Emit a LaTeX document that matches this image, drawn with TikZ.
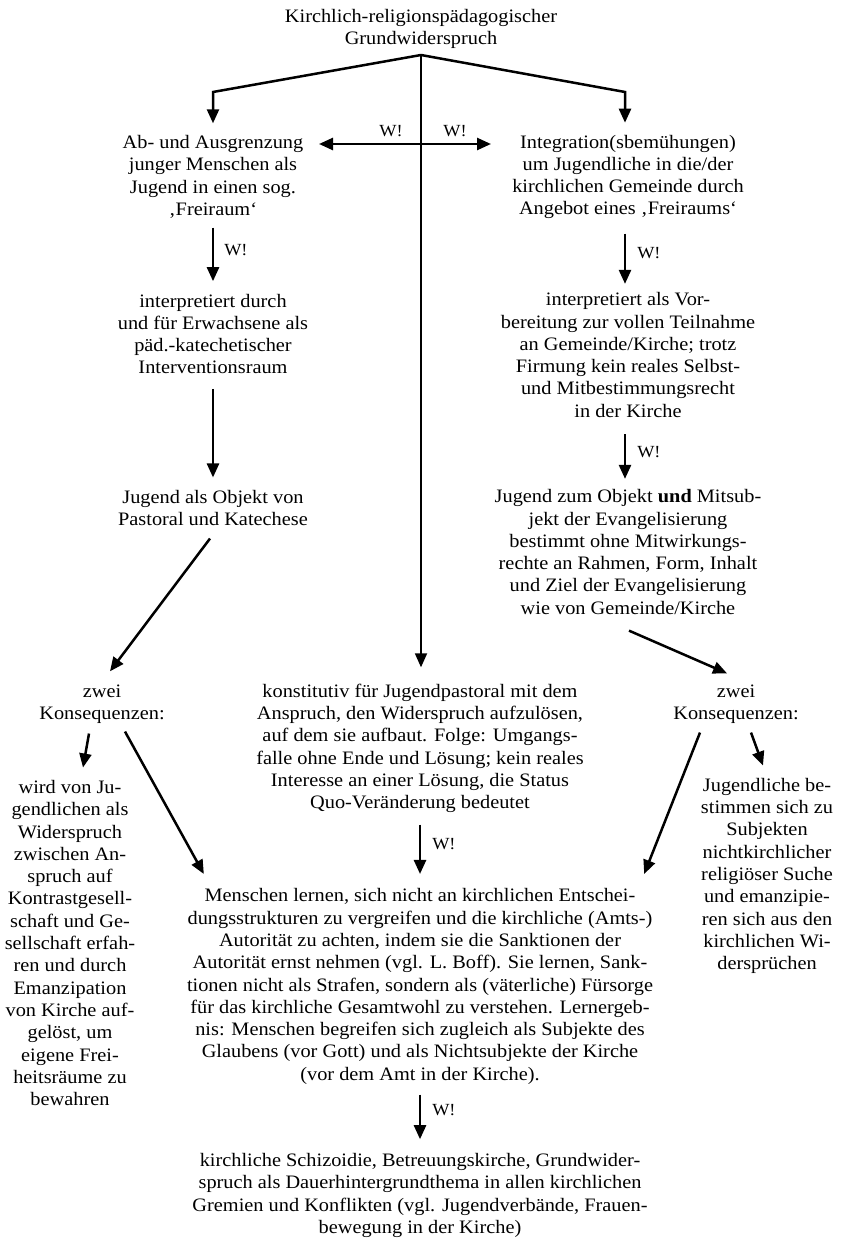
\documentclass[tikz,border=0pt]{standalone}
\usepackage{fontspec}
\setmainfont{Liberation Serif}[FakeStretch=1.07]
\usetikzlibrary{arrows.meta}
\newcommand{\fs}{\fontsize{19}{22.3}\selectfont}
\newcommand{\fw}{\fontsize{17}{20}\selectfont}
\tikzset{
  txt/.style={align=center, font=\fs, inner sep=0pt},
  wlab/.style={font=\fw, inner sep=0pt},
  tip/.style={-{Triangle[length=14pt,width=12pt]}},
  arr/.style={line width=2.5pt, tip},
  arrb/.style={line width=2.5pt, {Triangle[length=14pt,width=12pt]}-{Triangle[length=14pt,width=12pt]}},
  ln/.style={line width=1.8pt}
}
\begin{document}
\begin{tikzpicture}[x=1pt,y=-1pt]
\useasboundingbox (0,0) rectangle (844,1238);
\node[txt] (title) at (421,29) {Kirchlich-religionspädagogischer\\Grundwiderspruch};
\coordinate (apex) at (421,55);
\coordinate (cornL) at (213,92);
\coordinate (cornR) at (625,92);
\node[txt] (L1) at (213,177) {Ab- und Ausgrenzung\\junger Menschen als\\Jugend in einen sog.\\‚Freiraum‘};
\node[txt] (R1) at (628,177) {Integration(sbemühungen)\\um Jugendliche in die/der\\kirchlichen Gemeinde durch\\Angebot eines ‚Freiraums‘};
\node[txt] (L2) at (213,334) {interpretiert durch\\und für Erwachsene als\\päd.-katechetischer\\Interventionsraum};
\node[txt] (R2) at (628,355) {interpretiert als Vor-\\bereitung zur vollen Teilnahme\\an Gemeinde/Kirche; trotz\\Firmung kein reales Selbst-\\und Mitbestimmungsrecht\\in der Kirche};
\node[txt] (L3) at (213,508) {Jugend als Objekt von\\Pastoral und Katechese};
\node[txt] (R3) at (628,552) {Jugend zum Objekt \textbf{und} Mitsub-\\jekt der Evangelisierung\\bestimmt ohne Mitwirkungs-\\rechte an Rahmen, Form, Inhalt\\und Ziel der Evangelisierung\\wie von Gemeinde/Kirche};
\node[txt] (KL) at (102,704.5) {zwei\\Konsequenzen:};
\node[txt] (KR) at (736,704.5) {zwei\\Konsequenzen:};
\node[txt] (C) at (420,748.5) {konstitutiv für Jugendpastoral mit dem\\Anspruch, den Widerspruch aufzulösen,\\auf dem sie aufbaut. Folge: Umgangs-\\falle ohne Ende und Lösung; kein reales\\Interesse an einer Lösung, die Status\\Quo-Veränderung bedeutet};
\node[txt] (LL) at (70,943) {wird von Ju-\\gendlichen als\\Widerspruch\\zwischen An-\\spruch auf\\Kontrastgesell-\\schaft und Ge-\\sellschaft erfah-\\ren und durch\\Emanzipation\\von Kirche auf-\\gelöst, um\\eigene Frei-\\heitsräume zu\\bewahren};
\node[txt] (RR) at (767,876) {Jugendliche be-\\stimmen sich zu\\Subjekten\\nichtkirchlicher\\religiöser Suche\\und emanzipie-\\ren sich aus den\\kirchlichen Wi-\\dersprüchen};
\node[txt] (M) at (420,986.5) {Menschen lernen, sich nicht an kirchlichen Entschei-\\dungsstrukturen zu vergreifen und die kirchliche (Amts-)\\Autorität zu achten, indem sie die Sanktionen der\\Autorität ernst nehmen (vgl. L. Boff). Sie lernen, Sank-\\tionen nicht als Strafen, sondern als (väterliche) Fürsorge\\für das kirchliche Gesamtwohl zu verstehen. Lernergeb-\\nis: Menschen begreifen sich zugleich als Subjekte des\\Glaubens (vor Gott) und als Nichtsubjekte der Kirche\\(vor dem Amt in der Kirche).};
\node[txt] (B) at (420,1195.5) {kirchliche Schizoidie, Betreuungskirche, Grundwider-\\spruch als Dauerhintergrundthema in allen kirchlichen\\Gremien und Konflikten (vgl. Jugendverbände, Frauen-\\bewegung in der Kirche)};
% top branches
\draw[arr, line join=miter] (apex) -- (cornL) -- ([yshift=12pt]L1.north -| cornL);
\draw[arr, line join=miter] (apex) -- (cornR) -- ([yshift=12pt]R1.north -| cornR);
\draw[ln, tip] (apex) -- ([yshift=16.5pt]C.north -| apex);
% horizontal double arrow
\coordinate (dL) at (319,144);
\coordinate (dR) at (491,144);
\draw[arrb] (dL) -- (dR);
\node[wlab] (w1) at (391,131) {W!};
\node[wlab] (w2) at (455,131) {W!};
% left column
\draw[arr] ([yshift=-9pt]L1.south) -- ([yshift=12.5pt]L2.north) node[midway, right=10pt, yshift=4pt, wlab] (w3) {W!};
\draw[arr] ([yshift=-14.5pt]L2.south) -- ([yshift=12.5pt]L3.north);
\draw[arr] ([shift={(-3pt,-12.5pt)}]L3.south) -- ([shift={(8pt,13.5pt)}]KL.north);
% right column
\draw[arr] ([yshift=-14.4pt]R1.south -| cornR) -- ([yshift=8.5pt]R2.north -| cornR) node[midway, right=11pt, yshift=6pt, wlab] (w4) {W!};
\draw[arr] ([yshift=-16.5pt]R2.south -| cornR) -- ([yshift=10.5pt]R3.north -| cornR) node[midway, right=11pt, yshift=4pt, wlab] (w5) {W!};
\draw[arr] ([shift={(1pt,-16pt)}]R3.south) -- ([shift={(-9pt,11.5pt)}]KR.north);
% consequences
\draw[arr] ([shift={(-13pt,-9.4pt)}]KL.south) -- ([shift={(13pt,12.5pt)}]LL.north);
\draw[arr] ([shift={(23pt,-7.4pt)}]KL.south) -- ([shift={(17pt,14.5pt)}]M.north west);
\draw[arr] ([shift={(-36pt,-8.4pt)}]KR.south) -- ([shift={(-9pt,14.5pt)}]M.north east);
\draw[arr] ([shift={(15pt,-8.4pt)}]KR.south) -- ([shift={(-4pt,12.5pt)}]RR.north);
% center column
\draw[arr] ([yshift=-11.4pt]C.south) -- ([yshift=14.5pt]M.north) node[midway, right=11pt, yshift=5pt, wlab] (w6) {W!};
\draw[arr] ([yshift=-10pt]M.south) -- ([yshift=14pt]B.north) node[midway, right=11pt, yshift=7pt, wlab] (w7) {W!};
\end{tikzpicture}
\end{document}
